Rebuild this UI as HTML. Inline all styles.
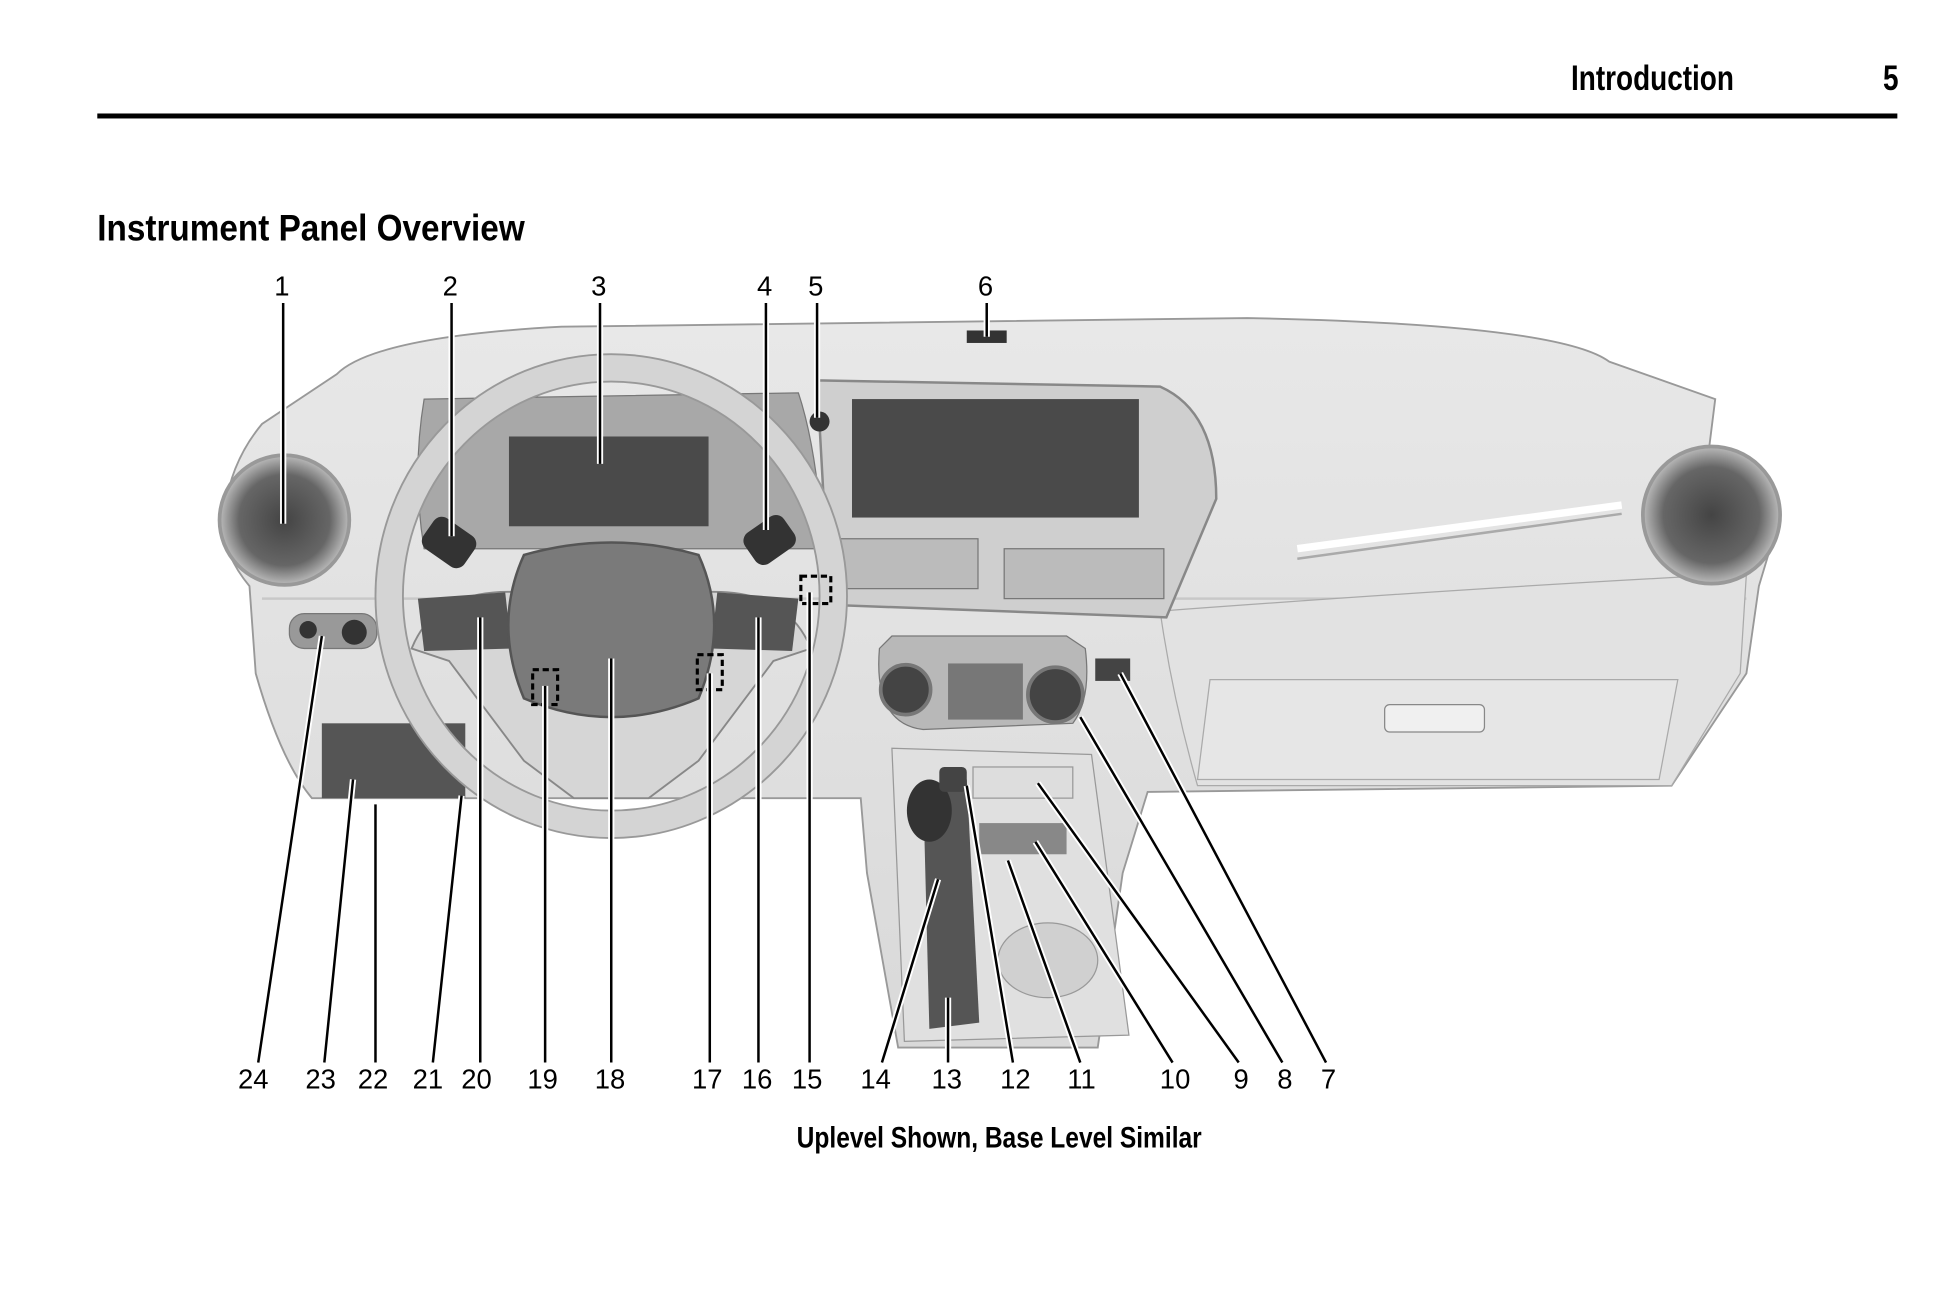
<!DOCTYPE html>
<html><head><meta charset="utf-8"><style>
html,body{margin:0;padding:0;background:#fff;}
svg{display:block;}
text{font-family:"Liberation Sans",sans-serif;}
</style></head><body>
<svg width="1946" height="1292" viewBox="0 0 1560 1036" preserveAspectRatio="none">
<defs>
<radialGradient id="vent" cx="50%" cy="50%" r="50%"><stop offset="0" stop-color="#444"/><stop offset="0.7" stop-color="#666"/><stop offset="1" stop-color="#bbb"/></radialGradient>
<linearGradient id="dash" x1="0" y1="0" x2="0" y2="1"><stop offset="0" stop-color="#e8e8e8"/><stop offset="1" stop-color="#d9d9d9"/></linearGradient>
</defs>
<!-- header -->
<text x="1390" y="72" text-anchor="end" font-size="28" font-weight="bold" transform="translate(1390,0) scale(0.8,1) translate(-1390,0)">Introduction</text>
<text x="1522" y="72" text-anchor="end" font-size="28" font-weight="bold" transform="translate(1522,0) scale(0.8,1) translate(-1522,0)">5</text>
<rect x="78" y="91" width="1443" height="4" fill="#000"/>
<text x="78" y="193" font-size="30" font-weight="bold" transform="translate(78,0) scale(0.89,1) translate(-78,0)">Instrument Panel Overview</text>

<!-- dashboard drawing -->
<path d="M270 300 Q300 270 450 262 L1000 255 Q1250 260 1290 290 L1375 320 L1370 360 Q1420 380 1425 420 L1410 470 L1400 540 L1340 630 L920 635 L900 700 L880 840 L720 840 L695 700 L690 640 L370 640 L250 640 Q225 610 205 540 L200 470 Q175 440 180 410 Q185 370 210 340 Z" fill="url(#dash)" stroke="#999" stroke-width="1.5"/>
<path d="M210 480 L1400 480" stroke="#c8c8c8" stroke-width="2"/>
<path d="M930 490 Q1200 470 1400 460 L1395 540 L1340 630 L960 630 Q940 560 930 490Z" fill="#e2e2e2" stroke="#aaa"/>
<path d="M970 545 L1345 545 L1330 625 L960 625Z" fill="#e6e6e6" stroke="#aaa"/>
<rect x="1110" y="565" width="80" height="22" rx="4" fill="#f0f0f0" stroke="#888"/>
<path d="M655 305 L930 310 Q975 330 975 400 L935 495 L665 485Z" fill="#cfcfcf" stroke="#888" stroke-width="2"/>
<rect x="683" y="320" width="230" height="95" fill="#4a4a4a"/>
<circle cx="657" cy="338" r="8" fill="#333"/>
<rect x="672" y="432" width="112" height="40" fill="#bbb" stroke="#777"/>
<rect x="805" y="440" width="128" height="40" fill="#bbb" stroke="#777"/>
<rect x="775" y="265" width="32" height="10" fill="#333"/>
<path d="M705 520 Q700 580 740 585 L860 580 Q875 560 870 520 L855 510 L715 510Z" fill="#b8b8b8" stroke="#777"/>
<circle cx="726" cy="553" r="20" fill="#444" stroke="#777" stroke-width="3"/>
<circle cx="846" cy="557" r="22" fill="#444" stroke="#777" stroke-width="3"/>
<rect x="760" y="532" width="60" height="45" fill="#777"/>
<rect x="878" y="528" width="28" height="18" fill="#444"/>
<path d="M715 600 L875 605 L905 830 L725 835Z" fill="#e0e0e0" stroke="#999"/>
<rect x="780" y="615" width="80" height="25" fill="#ddd" stroke="#999"/>
<rect x="785" y="660" width="70" height="25" fill="#888"/>
<path d="M740 630 L775 625 L785 820 L745 825Z" fill="#555"/>
<ellipse cx="745" cy="650" rx="18" ry="25" fill="#333"/>
<rect x="753" y="615" width="22" height="20" rx="4" fill="#444"/>
<ellipse cx="840" cy="770" rx="40" ry="30" fill="#d0d0d0" stroke="#999"/>
<circle cx="228" cy="417" r="52" fill="url(#vent)" stroke="#999" stroke-width="3"/>
<circle cx="1372" cy="413" r="55" fill="url(#vent)" stroke="#999" stroke-width="3"/>
<path d="M1040 440 L1300 405" stroke="#fff" stroke-width="6"/>
<path d="M1040 448 L1300 412" stroke="#aaa" stroke-width="2"/>
<rect x="232" y="492" width="70" height="28" rx="12" fill="#999" stroke="#777"/>
<circle cx="247" cy="505" r="7" fill="#333"/><circle cx="284" cy="507" r="10" fill="#333"/>
<rect x="258" y="580" width="115" height="60" fill="#555"/>
<path d="M340 320 L640 315 Q655 360 660 440 L340 440 Q330 380 340 320Z" fill="#a8a8a8" stroke="#777"/>
<rect x="408" y="350" width="160" height="72" fill="#4a4a4a"/>
<rect x="340" y="420" width="40" height="30" rx="8" fill="#333" transform="rotate(35 360 435)"/>
<rect x="598" y="418" width="38" height="30" rx="8" fill="#333" transform="rotate(-35 617 433)"/>
<ellipse cx="490" cy="478" rx="178" ry="183" fill="none" stroke="#d4d4d4" stroke-width="22"/>
<ellipse cx="490" cy="478" rx="189" ry="194" fill="none" stroke="#999" stroke-width="1.5"/>
<ellipse cx="490" cy="478" rx="167" ry="172" fill="none" stroke="#999" stroke-width="1.5"/>
<path d="M330 520 Q350 470 420 475 L560 475 Q630 470 650 520 L620 530 L560 610 L520 640 L460 640 L420 610 L360 530Z" fill="#d6d6d6" stroke="#888" stroke-width="1.5"/>
<path d="M335 480 L405 475 L410 520 L340 522Z" fill="#555"/>
<path d="M575 475 L640 480 L635 522 L570 520Z" fill="#555"/>
<path d="M420 445 Q490 425 560 445 Q585 500 560 560 Q490 590 420 560 Q395 500 420 445Z" fill="#7a7a7a" stroke="#555" stroke-width="2"/>
<rect x="427" y="537" width="20" height="28" fill="none" stroke="#000" stroke-width="2.5" stroke-dasharray="5,3"/>
<rect x="559" y="525" width="20" height="28" fill="none" stroke="#000" stroke-width="2.5" stroke-dasharray="5,3"/>
<rect x="642" y="462" width="24" height="22" fill="none" stroke="#000" stroke-width="2.5" stroke-dasharray="5,3"/>

<g stroke="#fff" stroke-width="5" fill="none">
<path d="M227 243V420M362 243V430M481 243V372M614 243V425M655 243V335M791 243V270M207 852L258 510M260 852L283 625M301 852V645M347 852L370 638M385 852V495M437 852V550M490 852V528M569 852V540M608 852V495M649 852V475M707 852L752 705M760 852V800M812 852L775 630M866 852L808 690M940 852L830 675M993 852L832 628M1028 852L866 575M1063 852L898 540"/>
</g>
<g stroke="#000" stroke-width="2" fill="none">
<path d="M227 243V420M362 243V430M481 243V372M614 243V425M655 243V335M791 243V270M207 852L258 510M260 852L283 625M301 852V645M347 852L370 638M385 852V495M437 852V550M490 852V528M569 852V540M608 852V495M649 852V475M707 852L752 705M760 852V800M812 852L775 630M866 852L808 690M940 852L830 675M993 852L832 628M1028 852L866 575M1063 852L898 540"/>
</g>
<g font-size="22" text-anchor="middle">
<text x="226" y="237">1</text><text x="361" y="237">2</text><text x="480" y="237">3</text><text x="613" y="237">4</text><text x="654" y="237">5</text><text x="790" y="237">6</text>
<text x="203" y="873">24</text><text x="257" y="873">23</text><text x="299" y="873">22</text><text x="343" y="873">21</text><text x="382" y="873">20</text><text x="435" y="873">19</text><text x="489" y="873">18</text><text x="567" y="873">17</text><text x="607" y="873">16</text><text x="647" y="873">15</text><text x="702" y="873">14</text><text x="759" y="873">13</text><text x="814" y="873">12</text><text x="867" y="873">11</text><text x="942" y="873">10</text><text x="995" y="873">9</text><text x="1030" y="873">8</text><text x="1065" y="873">7</text>
</g>
<text x="801" y="920" text-anchor="middle" font-size="24" font-weight="bold" transform="translate(801,0) scale(0.82,1) translate(-801,0)">Uplevel Shown, Base Level Similar</text>
</svg>
</body></html>
